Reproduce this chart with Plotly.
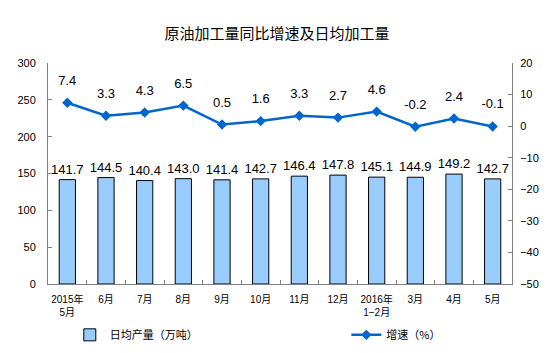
import plotly.graph_objects as go

categories = ["2015年<br>5月", "6月", "7月", "8月", "9月", "10月", "11月", "12月",
              "2016年<br>1−2月", "3月", "4月", "5月"]
daily_output = [141.7, 144.5, 140.4, 143.0, 141.4, 142.7, 146.4, 147.8, 145.1, 144.9, 149.2, 142.7]
growth = [7.4, 3.3, 4.3, 6.5, 0.5, 1.6, 3.3, 2.7, 4.6, -0.2, 2.4, -0.1]

font_latin = "Liberation Sans, Arial, sans-serif"
font_cjk = "Liberation Sans, Noto Sans CJK SC, sans-serif"

fig = go.Figure()
fig.add_trace(go.Bar(
    x=categories, y=daily_output, name="日均产量（万吨）",
    marker=dict(color="#99CCFF", line=dict(color="#000000", width=1)),
    text=[f"{v:.1f}" for v in daily_output], textposition="outside",
    constraintext="none",
    textfont=dict(family=font_latin, size=13, color="#000000"),
    cliponaxis=False, width=0.42, legend="legend",
))
fig.add_trace(go.Scatter(
    x=categories, y=growth, name="增速（%）", yaxis="y2",
    mode="lines+markers",
    line=dict(color="#0066CC", width=2.5),
    marker=dict(symbol="diamond", size=8, color="#0066CC"),
    cliponaxis=False, legend="legend2",
))
# labels for growth line, offset further above the markers
fig.add_trace(go.Scatter(
    x=categories, y=growth, yaxis="y2", mode="markers+text",
    marker=dict(size=22, color="rgba(0,0,0,0)"),
    text=[f"{v:.1f}" for v in growth], textposition="top center",
    textfont=dict(family=font_latin, size=13, color="#000000"),
    cliponaxis=False, showlegend=False, hoverinfo="skip",
))

legend_common = dict(orientation="h", yanchor="middle", y=-0.23,
                     font=dict(family="Noto Sans CJK SC", size=11, color="#000000"),
                     bgcolor="rgba(0,0,0,0)")

fig.update_layout(
    width=554, height=353,
    margin=dict(l=48, r=42, t=63, b=69, autoexpand=False),
    paper_bgcolor="white", plot_bgcolor="white",
    title=dict(text="原油加工量同比增速及日均加工量", x=0.5, xanchor="center",
               y=0.905, yanchor="middle",
               font=dict(family="Noto Sans CJK SC", size=15, color="#000000")),
    showlegend=True,
    legend=dict(x=0.047, xanchor="left", **legend_common),
    legend2=dict(x=0.643, xanchor="left", **legend_common),
    bargap=0.58,
    xaxis=dict(type="category", range=[-0.5, len(categories) - 0.5],
               showline=True, linecolor="#808080", linewidth=1,
               ticks="inside", tickson="boundaries", ticklen=4, tickcolor="#808080",
               tickangle=0, automargin=False, ticklabelstandoff=6,
               tickfont=dict(family=font_cjk, size=10, color="#000000"),
               showgrid=False, zeroline=False),
    yaxis=dict(range=[0, 300], dtick=50, showline=True, linecolor="#808080", linewidth=1,
               ticks="inside", ticklen=4, tickcolor="#808080", automargin=False,
               ticklabelstandoff=9,
               tickfont=dict(family=font_latin, size=11, color="#000000"),
               showgrid=False, zeroline=False),
    yaxis2=dict(range=[-50, 20], dtick=10, overlaying="y", side="right",
                showline=True, linecolor="#808080", linewidth=1,
                ticks="inside", ticklen=4, tickcolor="#808080", automargin=False,
                ticklabelstandoff=5,
                tickfont=dict(family=font_latin, size=11, color="#000000"),
                showgrid=False, zeroline=False),
)

fig.write_html("out.html")
